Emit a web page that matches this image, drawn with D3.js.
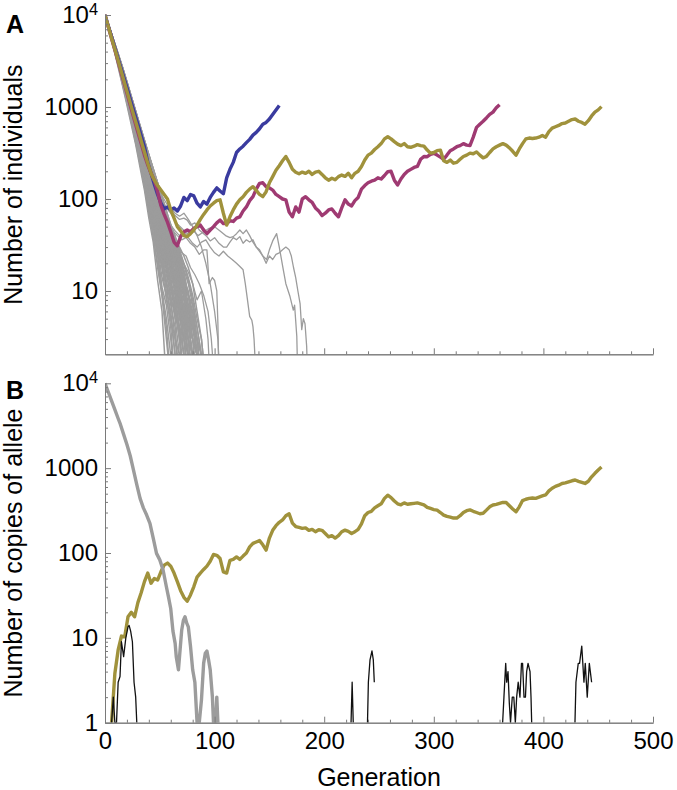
<!DOCTYPE html>
<html>
<head>
<meta charset="utf-8">
<script src="https://cdn.jsdelivr.net/npm/d3@7"></script>
<style>
  body { margin: 0; background: #fff; }
  text { font-family: "Liberation Sans", Arial, Helvetica, sans-serif; }
</style>
</head>
<body>
<svg id="chart" width="677" height="790"></svg>
<script>
// ---- data (generation, count) ----
const xTicks = [0, 100, 200, 300, 400, 500];
const yTicksA = [10, 100, 1000, 10000];
const yTicksB = [1, 10, 100, 1000, 10000];

// colored populations in panel A, one value every 3 generations from 0
const colorStep = 3;
const blueA = [10000,7600,5800,4400,3350,2550,1950,1480,1120,850,650,490,370,250,190,145,112,90,78,82,76,80,74,84,104,96,112,108,90,82,94,88,104,118,132,122,114,170,210,250,320,350,375,410,445,495,530,580,650,680,740,830,930,1040];
const magentaA = [10000,7400,5500,4150,3100,2300,1720,1280,950,710,530,400,300,235,190,160,120,85,68,56,44,34,31,39,44,46,44,48,50,52,46,42,46,50,55,59,54,54,58,57,62,64,74,82,96,106,128,148,150,136,132,125,112,106,100,98,72,64,82,72,100,106,98,92,80,74,66,70,76,78,70,64,80,98,88,84,96,104,128,140,150,156,160,170,165,180,198,200,160,142,165,185,200,210,220,226,270,290,288,305,314,300,285,270,300,335,350,370,380,400,385,380,470,600,650,700,760,830,880,980,1060];
const goldA = [10000,7500,5600,4250,3200,2400,1800,1350,1010,760,575,430,325,245,190,160,140,125,112,100,76,62,50,45,40,39,42,46,52,60,68,76,84,90,96,98,70,52,64,76,88,98,106,118,128,136,124,112,106,120,150,175,205,230,260,290,250,210,195,188,196,190,200,185,196,200,185,170,160,168,162,175,182,176,190,170,190,200,225,265,300,315,345,370,400,450,475,450,420,395,380,400,370,365,375,390,380,375,340,315,320,335,340,260,250,265,245,250,270,290,300,315,310,325,300,280,290,320,350,370,385,400,385,360,330,300,350,400,450,460,455,460,470,490,470,540,590,610,630,660,670,700,730,740,700,680,650,710,800,880,930,1010];

// gray populations in panel A that die out, one value every 4 generations from 0
const grayStep = 4;
const grayA = [
  [10000,6500,4300,2700,1700,1050,640,390,220,125,62,34,13,6,1],
  [10000,6700,4400,2900,1800,1150,700,420,250,140,80,38,20,9,4,1],
  [10000,6800,4500,3000,1900,1200,760,470,290,160,92,50,26,11,7,3,1],
  [10000,6600,4500,3100,2000,1250,800,500,300,175,100,60,28,18,8,5,2,1],
  [10000,6900,4600,3100,2050,1300,850,540,330,190,110,58,36,18,12,5,3,1],
  [10000,6800,4700,3200,2100,1350,880,560,350,200,120,72,40,24,12,8,3,2,1],
  [10000,7000,4700,3200,2100,1400,900,600,370,230,130,78,48,26,17,8,6,3,1],
  [10000,6900,4800,3300,2200,1450,950,620,390,240,145,85,52,30,18,12,5,4,1],
  [10000,7000,4800,3300,2200,1450,960,640,400,250,155,95,55,36,20,14,7,4,2,1],
  [10000,7100,4900,3400,2300,1500,1000,660,420,260,160,100,62,34,24,12,9,4,3,1],
  [10000,6900,4800,3300,2250,1500,1000,670,430,280,170,105,66,42,24,17,9,6,2,1],
  [10000,7000,4900,3400,2300,1550,1020,680,450,290,180,112,70,45,30,16,12,5,4,2,1],
  [10000,7100,5000,3500,2400,1600,1050,700,460,300,190,120,76,48,28,20,10,8,3,2,1],
  [10000,7000,4900,3400,2350,1580,1060,710,470,310,200,128,80,52,34,20,14,7,5,2,1],
  [10000,7200,5000,3500,2400,1620,1080,720,480,320,210,135,88,55,36,24,13,10,4,3,1],
  [10000,7100,5000,3500,2400,1650,1100,740,500,330,215,140,92,58,38,22,16,8,6,3,2,1],
  [10000,7000,4900,3400,2350,1600,1080,730,490,330,220,150,96,64,40,28,15,12,5,4,2,1],
  [10000,7200,5100,3600,2500,1700,1150,770,520,350,230,150,100,66,44,27,20,10,8,3,2,1],
  [10000,7100,5000,3500,2450,1680,1140,780,530,360,240,160,105,70,46,32,18,14,6,5,2,1],
  [10000,7200,5100,3600,2500,1720,1180,800,550,370,250,170,112,72,50,30,22,11,9,4,3,1],
  [10000,7100,5000,3500,2450,1680,1150,790,540,370,250,172,116,78,52,36,22,16,8,6,3,2,1],
  [10000,7200,5100,3600,2500,1750,1200,820,560,380,260,178,120,82,54,38,26,14,11,5,4,2,1],
  [10000,7300,5200,3700,2600,1800,1230,850,580,400,270,182,124,84,58,40,25,18,9,7,3,2,1],
  [10000,7200,5100,3600,2550,1760,1210,830,570,390,270,188,128,88,60,42,28,16,12,6,5,2,1],
  [10000,7300,5200,3700,2600,1800,1250,860,600,410,280,190,132,90,62,44,30,20,11,9,4,3,1],
  [10000,7200,5100,3650,2550,1780,1230,860,590,410,285,196,136,95,64,46,32,18,14,7,6,2,1],
  [10000,7300,5200,3700,2600,1820,1270,880,610,420,290,200,140,96,68,46,34,22,13,10,5,3,1],
  [10000,7200,5100,3600,2550,1760,1220,850,590,410,290,204,142,100,70,50,34,24,16,9,7,3,2,1],
  [10000,7400,5300,3800,2700,1900,1300,900,620,430,300,210,150,105,72,50,38,30,24,18,12,6,3,1],
  [10000,7300,5200,3700,2650,1850,1280,890,620,430,300,212,148,102,74,52,40,28,20,14,9,5,3,1],
  [10000,6600,4400,2800,1750,1100,680,410,240,135,70,40,18,9,3,1],
  [10000,6700,4450,2950,1850,1180,730,450,270,150,86,44,24,10,5,2,1],
  [10000,6750,4500,3000,1950,1230,780,480,290,168,96,55,30,14,9,4,1],
  [10000,6850,4600,3050,2000,1280,820,520,315,182,104,62,32,20,10,6,2,1],
  [10000,6900,4650,3150,2080,1330,860,545,340,195,114,66,38,22,13,7,4,1],
  [10000,6950,4700,3200,2120,1380,890,580,360,215,126,74,44,25,15,9,5,2,1],
  [10000,7000,4750,3250,2150,1420,930,610,380,235,138,82,50,28,19,10,7,3,1],
  [10000,7050,4800,3300,2200,1460,960,630,395,245,150,90,54,33,20,13,6,4,2,1],
  [10000,7050,4850,3350,2250,1480,980,650,410,255,158,98,58,37,22,11,8,3,1],
  [10000,6950,4850,3350,2280,1520,1010,665,425,270,165,102,64,40,26,15,10,5,3,1],
  [10000,7000,4900,3380,2320,1540,1030,690,440,285,176,108,68,43,27,18,10,7,3,2,1],
  [10000,7050,4950,3450,2350,1580,1050,705,455,295,185,116,72,47,29,19,12,6,4,1],
  [10000,7100,5000,3480,2380,1600,1070,715,465,305,195,124,78,50,32,20,13,8,4,3,1],
  [10000,7150,5000,3500,2400,1630,1090,730,485,325,205,132,84,54,35,22,15,8,6,2,1],
  [10000,7050,4950,3450,2380,1620,1090,735,495,330,218,144,94,60,38,25,14,11,5,3,2,1],
  [10000,7150,5050,3550,2450,1680,1130,760,510,345,226,148,98,64,42,26,18,9,7,3,1],
  [10000,7200,5100,3580,2480,1700,1160,785,535,362,242,158,104,68,45,30,19,13,6,4,2,1],
  [10000,7150,5050,3550,2470,1700,1170,800,545,372,250,166,110,74,48,33,21,14,9,4,3,1],
  [10000,7250,5150,3650,2550,1760,1200,815,555,380,258,176,118,78,52,34,24,13,10,5,3,2,1],
  [10000,7250,5150,3650,2550,1770,1220,840,575,395,268,184,124,83,56,38,25,17,10,7,4,2,1],
  [10000,7300,5200,3700,2600,1800,1240,855,590,405,278,190,130,88,58,41,27,18,12,6,5,2,1],
  [10000,7300,5250,3750,2650,1840,1270,875,605,418,288,198,136,92,63,44,30,20,13,9,4,3,1],
  [10000,7350,5250,3750,2650,1850,1280,890,615,425,296,205,142,98,67,47,33,22,15,9,6,3,2,1],
  [10000,7400,5300,3800,2700,1880,1300,905,630,438,305,212,148,102,71,50,36,26,17,12,7,4,2,1],
  [10000,7350,5300,3780,2680,1870,1300,900,625,432,302,214,150,106,74,53,38,27,19,13,8,4,2,1]
];

// gray populations in panel A that linger longer, [generation, count]
const grayLongA = [
  [[0,10000],[10,3900],[20,1500],[30,560],[40,230],[50,120],[56,90],[60,75],[64,66],[68,60],[72,62],[75,59],[78,52],[82,55],[86,46],[90,42],[93,39],[96,35],[100,38],[104,33],[108,30],[111,30],[114,34],[117,38],[120,36],[123,39],[126,33],[129,36],[132,34],[135,36],[138,30],[141,27],[144,24],[147,20],[150,24],[153,22],[156,25],[159,26],[162,28],[165,30],[168,28],[170,24],[172,18],[174,14],[176,10],[178,7.3],[179.5,3.8],[181,5],[182.5,4.4],[184,2.5],[185,1]],
  [[0,10000],[10,3850],[20,1450],[30,540],[40,220],[50,110],[56,80],[60,70],[65,55],[70,48],[75,42],[80,46],[85,40],[90,44],[95,48],[100,50],[105,45],[110,40],[114,38],[117,39],[120,42],[123,46],[126,42],[129,46],[132,40],[135,34],[138,30],[141,28],[144,24],[147.5,22],[150,28],[153,35],[156.6,42],[159,30],[162.7,17],[165,12],[168.8,8.7],[171.8,6.2],[173,7],[175,3.2],[176,1]],
  [[0,10000],[10,3900],[20,1550],[30,520],[40,210],[50,95],[56,65],[60,52],[64,45],[68,40],[72,44],[76,38],[80,33],[84,30],[88,34],[92,36],[96,30],[100,26],[104,24],[108,27],[112,24],[116,22],[120,20],[124,18],[126,17],[128,12],[130,8],[132,5.3],[134,4.8],[135,4.1],[136,3],[138,1]],
  [[0,10000],[10,3800],[20,1450],[30,500],[40,200],[50,90],[60,48],[66,40],[70,36],[74,38],[78,33],[82,30],[86,25],[90,28],[93,28],[95,12],[98,14],[100,13],[102,10],[103,4.5],[104,1]],
  [[0,10000],[10,3800],[20,1400],[30,480],[40,190],[50,85],[60,42],[66,32],[70,26],[74,24],[78,18],[82,15],[86,12],[90,9],[94,6],[97,3],[100,1]],
  [[0,10000],[10,3750],[20,1400],[30,470],[40,180],[50,80],[60,38],[66,28],[70,22],[76,16],[80,12],[84,8],[88,10],[92,5],[94,3],[96,1]],
  [[0,10000],[10,3900],[20,1500],[30,540],[40,230],[50,130],[56,100],[60,80],[64,70],[68,65],[72,70],[76,60],[80,50],[84,40],[88,30],[92,20],[96,12],[100,6],[103,3],[105,1]]
];

// panel B: copies of the allele
const goldBStart = 6;
const goldB = [1,3.8,7.2,10.5,10.3,17.7,20,17.7,26,34,46,58,44,50,48,60,72,76,70,58,46,36,30,27,32,40,52,58,64,70,80,96,94,86,60,58,82,84,90,84,92,100,118,130,135,140,125,108,150,185,210,230,245,275,290,225,205,200,195,198,185,190,178,188,185,170,155,160,150,160,178,186,180,170,178,190,220,275,300,310,340,360,380,440,480,450,410,380,370,390,375,380,385,390,380,370,345,335,325,320,300,280,270,265,258,258,275,300,315,322,310,300,290,294,320,350,368,375,385,395,393,360,330,306,350,415,430,440,445,441,455,470,483,540,580,610,630,660,670,690,710,725,700,680,660,700,790,870,950,1030];
const grayB = [[0,10000],[3,7900],[6,6200],[9,4900],[12,3850],[14,3300],[17,2500],[20,1900],[23,1400],[26,950],[29,640],[32,440],[35,340],[38,280],[41,224],[44,150],[47,99],[50,83],[53,63],[56,40],[58,30],[60,22],[62,12],[64,8.6],[65,6],[67,4.2],[68,6],[70,12.4],[71.5,16],[73,17.7],[74.5,15],[76,13.5],[78,8],[80,4.2],[82,3],[84,1],[86,1],[88,1.85],[90,5],[91.5,6.6],[93,7],[94.5,5.5],[96,4.2],[98,2],[99,1],[101,1],[102,2],[103,1]];
const blackB = [
  [[6,1],[7.6,2],[9,1],[10.5,1],[12,3],[13.7,3.5],[15,9],[17,6],[19,10],[21,13.5],[22,14],[23.4,12],[25,9],[26.5,3],[28,2],[29,1]],
  [[224.5,1],[225.5,3],[226.5,1]],
  [[239.5,1],[240.3,3],[241.8,5.5],[243.6,7],[244.8,5.5],[245.7,3]],
  [[362.8,1],[364,2],[365.6,5],[366.5,3],[367.7,4],[368.9,1.7],[370,1],[371.6,2],[373,2],[374.4,1],[375.6,2],[377,3],[378.6,2],[380,5],[381,5],[382.3,2],[383.6,2],[384.7,4],[386,5],[387.8,4],[388.7,2],[389.3,1]],
  [[428.8,1],[429.7,3],[431.8,5],[433,5],[435,8],[437,3],[438.2,5],[440,2],[441.9,5],[444,3]]
];

// ---- layout ----
const svg = d3.select('#chart');
const axisColor = '#7a7a7a';
const fontSize = 24;

const x = d3.scaleLinear().domain([0, 500]).range([105, 653]);
const yA = d3.scaleLog().domain([2.05, 10000]).range([354.3, 15]);
const yB = d3.scaleLog().domain([1, 10000]).range([722.7, 383.3]);

const colors = { blue: '#3a3b9f', magenta: '#9f3a72', gold: '#a0923c', gray: '#9c9c9c', black: '#111' };

function steps(values, step, start) {
  return values.map((v, i) => [start + i * step, v]);
}

function clip(id, y) {
  svg.append('clipPath').attr('id', id)
    .append('rect')
    .attr('x', x(0)).attr('y', y.range()[1] - 6)
    .attr('width', x(500) - x(0) + 2)
    .attr('height', y.range()[0] - y.range()[1] + 6);
}
clip('clipA', yA);
clip('clipB', yB);

function drawLines(y, clipId, series, color, width) {
  const line = d3.line().x(d => x(d[0])).y(d => y(d[1]));
  svg.append('g').attr('clip-path', `url(#${clipId})`)
    .selectAll('path')
    .data(series)
    .join('path')
    .attr('d', line)
    .attr('fill', 'none')
    .attr('stroke', color)
    .attr('stroke-width', width)
    .attr('stroke-linejoin', 'round');
}

function tickLabel(sel, d) {
  if (d === 10000) {
    sel.text('10');
    sel.append('tspan').text('4')
      .attr('font-size', '0.68em')
      .attr('dy', '-0.5em');
  } else {
    sel.text(d);
  }
}

function drawAxes(y, majors, showXLabels) {
  const bottom = y.range()[0];
  // y axis
  const gy = svg.append('g').attr('transform', `translate(${x(0)},0)`)
    .call(d3.axisLeft(y).tickValues(majors).tickSize(-6).tickSizeOuter(0).tickPadding(7).tickFormat(''));
  gy.selectAll('.tick text').each(function(d) { tickLabel(d3.select(this), d); });
  const minorY = y.ticks().filter(t => !majors.includes(t));
  svg.append('g').attr('transform', `translate(${x(0)},0)`)
    .call(d3.axisLeft(y).tickValues(minorY).tickSize(-3).tickSizeOuter(0).tickFormat(''));

  // x axis
  svg.append('g').attr('transform', `translate(0,${bottom})`)
    .call(d3.axisBottom(x).tickValues(xTicks).tickSize(-6).tickSizeOuter(0).tickPadding(9)
      .tickFormat(showXLabels ? d3.format('d') : ''));
  svg.append('g').attr('transform', `translate(0,${bottom})`)
    .call(d3.axisBottom(x).tickValues(d3.range(0, 501, 20).filter(t => t % 100)).tickSize(-3).tickSizeOuter(0).tickFormat(''));

  svg.selectAll('.domain').attr('stroke', axisColor);
  svg.selectAll('.tick line').attr('stroke', axisColor);
  svg.selectAll('.tick text').attr('fill', '#000').attr('font-size', fontSize)
    .attr('font-family', '"Liberation Sans", Arial, sans-serif');
}

// ---- panel A ----
drawLines(yA, 'clipA', grayA.map(v => steps(v, grayStep, 0)), colors.gray, 1.5);
drawLines(yA, 'clipA', grayLongA, colors.gray, 1.3);
drawLines(yA, 'clipA', [steps(blueA, colorStep, 0)], colors.blue, 3.4);
drawLines(yA, 'clipA', [steps(magentaA, colorStep, 0)], colors.magenta, 3.4);
drawLines(yA, 'clipA', [steps(goldA, colorStep, 0)], colors.gold, 3.4);
drawAxes(yA, yTicksA, false);

// ---- panel B ----
drawLines(yB, 'clipB', [steps(goldB, colorStep, goldBStart)], colors.gold, 3.4);
drawLines(yB, 'clipB', [grayB], colors.gray, 3.4);
drawLines(yB, 'clipB', blackB, colors.black, 1.3);
drawAxes(yB, yTicksB, true);

// ---- titles ----
svg.append('text').attr('x', 6).attr('y', 33).attr('font-size', 25).attr('font-weight', 'bold').text('A');
svg.append('text').attr('x', 6).attr('y', 399).attr('font-size', 25).attr('font-weight', 'bold').text('B');

svg.append('text')
  .attr('transform', `translate(22,${(yA.range()[0] + yA.range()[1]) / 2}) rotate(-90)`)
  .attr('text-anchor', 'middle').attr('font-size', 25)
  .text('Number of individuals');
svg.append('text')
  .attr('transform', `translate(22,${(yB.range()[0] + yB.range()[1]) / 2}) rotate(-90)`)
  .attr('text-anchor', 'middle').attr('font-size', 25)
  .text('Number of copies of allele');
svg.append('text')
  .attr('x', (x(0) + x(500)) / 2).attr('y', 786)
  .attr('text-anchor', 'middle').attr('font-size', 25)
  .text('Generation');
</script>
</body>
</html>
